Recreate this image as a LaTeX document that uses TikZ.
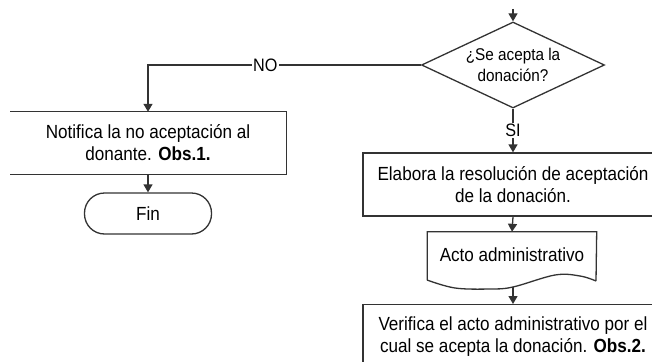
\documentclass[tikz,border=0pt]{standalone}
\usepackage{fontspec}
\setmainfont[FakeStretch=0.9]{Liberation Sans}
\usetikzlibrary{arrows.meta,shapes.geometric}
\definecolor{lncol}{HTML}{333333}
\begin{document}
\begin{tikzpicture}[x=1pt,y=-1pt,
  ln/.style={draw=lncol, line width=1.3pt},
  arr/.style={ln, -{Triangle[width=9pt,length=8pt]}},
  proc/.style={rectangle, ln, minimum width=300pt, minimum height=63pt, align=center, inner sep=0pt, font=\fontsize{19}{22}\selectfont},
  dec/.style={diamond, ln, minimum width=183pt, minimum height=86pt, aspect=2.13, inner sep=0pt, align=center, font=\fontsize{17}{21}\selectfont},
  term/.style={rectangle, rounded corners=20pt, ln, minimum width=127pt, minimum height=41pt, inner sep=0pt, font=\fontsize{19}{22}\selectfont},
  lbl/.style={fill=white, inner sep=1.5pt, font=\fontsize{18}{20}\selectfont},
  txt/.style={align=center, inner sep=0pt, font=\fontsize{19}{22}\selectfont}
]
\useasboundingbox (0,0) rectangle (652,361);
\fill[white] (0,0) rectangle (652,361);
\begin{scope}
\clip (10,0) rectangle (652,361);
% decision
\coordinate (in) at (513,9);
\node[dec] (q) at (513,65) {¿Se acepta la\\donación?};
\draw[arr] (in) -- (q.north);
% left branch
\node[txt, minimum width=276pt, minimum height=62pt] (notif) at (148,143) {Notifica la no aceptación al\\donante. \textbf{Obs.1.}};
\draw[ln] (notif.north west) -- (notif.north east) -- (notif.south east) -- (notif.south west);
\node[term] (fin) at (148,213.5) {Fin};
\draw[arr] (q.west) -| node[lbl, pos=0.285] {NO} (notif.north);
\draw[arr] (notif.south) -- (fin.north);
% right branch
\node[proc] (elab) at (513,184.5) {Elabora la resolución de aceptación\\de la donación.};
\draw[arr] (q.south) -- node[lbl] {SI} (elab.north);
\node[txt, minimum width=169pt, minimum height=46pt] (doc) at (512,255) {Acto administrativo};
\draw[ln] (doc.south west) ++(0,2) -- (doc.north west) -- (doc.north east) -- (596,281)
  plot[smooth, tension=0.6] coordinates {(596,281) (580,276) (555,275) (513,287) (490,289) (455,288) (427,280)};
\coordinate (docb) at (513,287);
\draw[arr] (elab.south) -- (doc.north);
\node[proc, anchor=north, minimum height=0pt, inner ysep=12pt] (verif) at (513,304) {Verifica el acto administrativo por el\\cual se acepta la donación. \textbf{Obs.2.}};
\draw[arr] (docb) -- (verif.north);
\end{scope}
\end{tikzpicture}
\end{document}
